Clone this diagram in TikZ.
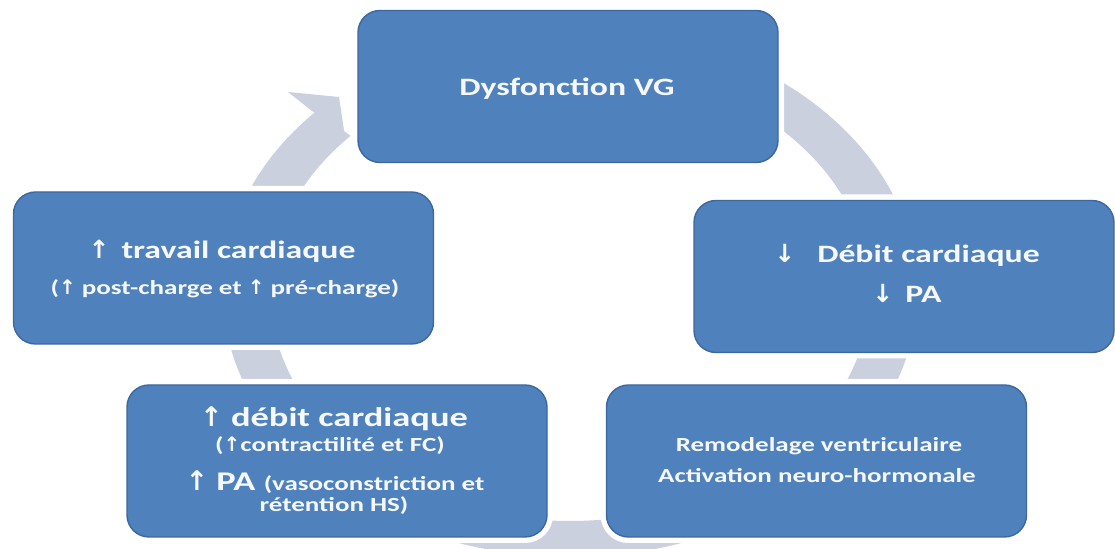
\documentclass[tikz,border=0pt]{standalone}
\usepackage{fontspec}
\setmainfont{Carlito}[FakeStretch=1.35]
\newfontfamily\arrfont{DejaVu Sans}
\definecolor{boxblue}{RGB}{79,129,189}
\definecolor{boxedge}{RGB}{60,104,160}
\definecolor{ringcol}{RGB}{203,208,223}
\definecolor{txtwhite}{RGB}{246,248,252}
\newcommand\fszA{\fontsize{12.5}{15}\selectfont\bfseries}
\newcommand\fszB{\fontsize{13.5}{15}\selectfont\bfseries}
\newcommand\fszC{\fontsize{10}{12}\selectfont\bfseries}
\newcommand\upar{{\arrfont\bfseries ↑}}
\newcommand\dnar{{\arrfont\bfseries ↓}}
\begin{document}
\begin{tikzpicture}[x=0.5pt,y=-0.5pt,
  cbox/.style={draw=boxedge, line width=0.7pt, fill=boxblue, rounded corners=11pt,
    minimum width=210pt, minimum height=76pt, inner sep=0pt,
    preaction={draw=white, line width=6pt}},
  txt/.style={text=txtwhite, anchor=base, inner sep=0pt}]
\useasboundingbox (0,0) rectangle (1115,549);
\fill[white] (0,0) rectangle (1115,549);
% cycle ring
\begin{scope}[shift={(570,292)}, xscale=1.31, yscale=-1]
  \fill[ringcol] (125:265) arc[start angle=125, end angle=-223, radius=265]
    -- (-223:229) arc[start angle=-223, end angle=125, radius=229] -- cycle;
\end{scope}
\fill[ringcol] (288,92) -- (339,97) -- (345,137) -- cycle;
% boxes
\node[cbox] (top) at (568,86.5) {};
\node[cbox] (right) at (904,276.5) {};
\node[cbox] (bright) at (816.5,461) {};
\node[cbox] (bleft) at (337,461) {};
\node[cbox] (left) at (223.5,268) {};
% texts
\node[txt, font=\fszA] (t1) at (567,96) {Dysfonction VG};
\node[txt, font=\fszA] (t2) at (907,263) {\dnar\hspace{11pt}Débit cardiaque};
\node[txt, font=\fszA] (t3) at (907,303) {\dnar\hspace{6pt}PA};
\node[txt, font=\fszA] (t4) at (222,259) {\upar\hspace{6pt}travail cardiaque};
\node[txt, font=\fszC] (t5) at (225,295) {(\upar{} post-charge et \upar{} pré-charge)};
\node[txt, font=\fszB] (t6) at (334,427) {\upar{} débit cardiaque};
\node[txt, font=\fszC] (t7) at (330,452) {(\upar contractilité et FC)};
\node[txt, font=\fszB] (t8) at (335,491) {\upar{} PA {\fszC(vasoconstriction et}};
\node[txt, font=\fszC] (t9) at (334,512) {rétention HS)};
\node[txt, font=\fszC] (t10) at (819,452) {Remodelage ventriculaire};
\node[txt, font=\fszC] (t11) at (817,483) {Activation neuro-hormonale};
\end{tikzpicture}
\end{document}
